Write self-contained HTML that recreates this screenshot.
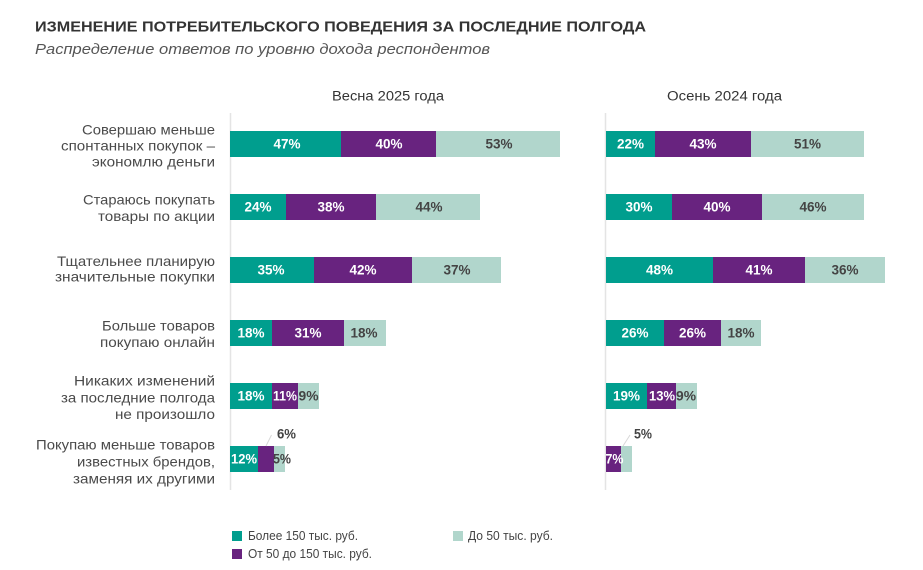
<!DOCTYPE html>
<html>
<head>
<meta charset="utf-8">
<style>
html,body{margin:0;padding:0;background:#fff;}
svg{display:block;}
text{font-family:"Liberation Sans","Noto Sans CJK JP",sans-serif;}
.lbl{font-size:14px;fill:#4a4a4a;text-anchor:end;}
.w{font-size:13.5px;font-weight:bold;fill:#fff;text-anchor:middle;}
.d{font-size:13.5px;font-weight:bold;fill:#444;text-anchor:middle;}
.hd{font-size:13.5px;fill:#333;}
.lg{font-size:12.5px;fill:#444;}
</style>
</head>
<body>
<svg width="923" height="570" viewBox="0 0 923 570" xmlns="http://www.w3.org/2000/svg">
<rect width="923" height="570" fill="#fff"/>
<text x="35" y="31.5" font-size="15" font-weight="bold" fill="#333" textLength="611" lengthAdjust="spacingAndGlyphs">ИЗМЕНЕНИЕ ПОТРЕБИТЕЛЬСКОГО ПОВЕДЕНИЯ ЗА ПОСЛЕДНИЕ ПОЛГОДА</text>
<text x="35" y="54" font-size="14.5" font-style="italic" fill="#555" textLength="455" lengthAdjust="spacingAndGlyphs">Распределение ответов по уровню дохода респондентов</text>

<text class="hd" x="332" y="100.5" textLength="112" lengthAdjust="spacingAndGlyphs">Весна 2025 года</text>
<text class="hd" x="667" y="100.5" textLength="115" lengthAdjust="spacingAndGlyphs">Осень 2024 года</text>

<line x1="230.5" y1="113" x2="230.5" y2="490" stroke="#e4e4e4" stroke-width="1.5"/>
<line x1="605.5" y1="113" x2="605.5" y2="490" stroke="#e4e4e4" stroke-width="1.5"/>

<text class="lbl" x="215" y="134.5" textLength="133" lengthAdjust="spacingAndGlyphs">Совершаю меньше</text>
<text class="lbl" x="215" y="150.5" textLength="154" lengthAdjust="spacingAndGlyphs">спонтанных покупок –</text>
<text class="lbl" x="215" y="166.5" textLength="123" lengthAdjust="spacingAndGlyphs">экономлю деньги</text>

<text class="lbl" x="215" y="204.5" textLength="132" lengthAdjust="spacingAndGlyphs">Стараюсь покупать</text>
<text class="lbl" x="215" y="221" textLength="117" lengthAdjust="spacingAndGlyphs">товары по акции</text>

<text class="lbl" x="215" y="266" textLength="158" lengthAdjust="spacingAndGlyphs">Тщательнее планирую</text>
<text class="lbl" x="215" y="281.5" textLength="160" lengthAdjust="spacingAndGlyphs">значительные покупки</text>

<text class="lbl" x="215" y="330.5" textLength="113" lengthAdjust="spacingAndGlyphs">Больше товаров</text>
<text class="lbl" x="215" y="347" textLength="115" lengthAdjust="spacingAndGlyphs">покупаю онлайн</text>

<text class="lbl" x="215" y="385.5" textLength="141" lengthAdjust="spacingAndGlyphs">Никаких изменений</text>
<text class="lbl" x="215" y="402.5" textLength="154" lengthAdjust="spacingAndGlyphs">за последние полгода</text>
<text class="lbl" x="215" y="419" textLength="100" lengthAdjust="spacingAndGlyphs">не произошло</text>

<text class="lbl" x="215" y="449.5" textLength="179" lengthAdjust="spacingAndGlyphs">Покупаю меньше товаров</text>
<text class="lbl" x="215" y="466.5" textLength="138" lengthAdjust="spacingAndGlyphs">известных брендов,</text>
<text class="lbl" x="215" y="483.5" textLength="142" lengthAdjust="spacingAndGlyphs">заменяя их другими</text>

<g>
<rect x="230" y="131" width="111" height="26" fill="#009E8E"/>
<rect x="341" y="131" width="95" height="26" fill="#68237F"/>
<rect x="436" y="131" width="124" height="26" fill="#B1D6CC"/>
<text class="w" x="287" y="148.5">47%</text>
<text class="w" x="389" y="148.5">40%</text>
<text class="d" x="499" y="148.5">53%</text>

<rect x="230" y="194" width="56" height="26" fill="#009E8E"/>
<rect x="286" y="194" width="90" height="26" fill="#68237F"/>
<rect x="376" y="194" width="104" height="26" fill="#B1D6CC"/>
<text class="w" x="258" y="211.5">24%</text>
<text class="w" x="331" y="211.5">38%</text>
<text class="d" x="429" y="211.5">44%</text>

<rect x="230" y="257" width="84" height="26" fill="#009E8E"/>
<rect x="314" y="257" width="98" height="26" fill="#68237F"/>
<rect x="412" y="257" width="89" height="26" fill="#B1D6CC"/>
<text class="w" x="271" y="274.5">35%</text>
<text class="w" x="363" y="274.5">42%</text>
<text class="d" x="457" y="274.5">37%</text>

<rect x="230" y="320" width="42" height="26" fill="#009E8E"/>
<rect x="272" y="320" width="72" height="26" fill="#68237F"/>
<rect x="344" y="320" width="42" height="26" fill="#B1D6CC"/>
<text class="w" x="251" y="337.5">18%</text>
<text class="w" x="308" y="337.5">31%</text>
<text class="d" x="364" y="337.5">18%</text>

<rect x="230" y="383" width="42" height="26" fill="#009E8E"/>
<rect x="272" y="383" width="26" height="26" fill="#68237F"/>
<rect x="298" y="383" width="21" height="26" fill="#B1D6CC"/>
<text class="w" x="251" y="400.5">18%</text>
<text class="w" x="285" y="400.5" textLength="24" lengthAdjust="spacingAndGlyphs">11%</text>
<text class="d" x="308.5" y="400.5" textLength="20" lengthAdjust="spacingAndGlyphs">9%</text>

<rect x="230" y="446" width="28" height="26" fill="#009E8E"/>
<rect x="258" y="446" width="16" height="26" fill="#68237F"/>
<rect x="274" y="446" width="11" height="26" fill="#B1D6CC"/>
<text class="w" x="244" y="463.5" textLength="26" lengthAdjust="spacingAndGlyphs">12%</text>
<text class="d" x="282" y="463.5" textLength="18" lengthAdjust="spacingAndGlyphs">5%</text>
<line x1="266" y1="446" x2="271.5" y2="435" stroke="#d8d8d8" stroke-width="1"/>
<text class="d" x="286.5" y="438.5" textLength="19" lengthAdjust="spacingAndGlyphs">6%</text>
</g>

<g>
<rect x="606" y="131" width="49" height="26" fill="#009E8E"/>
<rect x="655" y="131" width="96" height="26" fill="#68237F"/>
<rect x="751" y="131" width="113" height="26" fill="#B1D6CC"/>
<text class="w" x="630.5" y="148.5">22%</text>
<text class="w" x="703" y="148.5">43%</text>
<text class="d" x="807.5" y="148.5">51%</text>

<rect x="606" y="194" width="66" height="26" fill="#009E8E"/>
<rect x="672" y="194" width="90" height="26" fill="#68237F"/>
<rect x="762" y="194" width="102" height="26" fill="#B1D6CC"/>
<text class="w" x="639" y="211.5">30%</text>
<text class="w" x="717" y="211.5">40%</text>
<text class="d" x="813" y="211.5">46%</text>

<rect x="606" y="257" width="107" height="26" fill="#009E8E"/>
<rect x="713" y="257" width="92" height="26" fill="#68237F"/>
<rect x="805" y="257" width="80" height="26" fill="#B1D6CC"/>
<text class="w" x="659.5" y="274.5">48%</text>
<text class="w" x="759" y="274.5">41%</text>
<text class="d" x="845" y="274.5">36%</text>

<rect x="606" y="320" width="58" height="26" fill="#009E8E"/>
<rect x="664" y="320" width="57" height="26" fill="#68237F"/>
<rect x="721" y="320" width="40" height="26" fill="#B1D6CC"/>
<text class="w" x="635" y="337.5">26%</text>
<text class="w" x="692.5" y="337.5">26%</text>
<text class="d" x="741" y="337.5">18%</text>

<rect x="606" y="383" width="41" height="26" fill="#009E8E"/>
<rect x="647" y="383" width="29" height="26" fill="#68237F"/>
<rect x="676" y="383" width="21" height="26" fill="#B1D6CC"/>
<text class="w" x="626.5" y="400.5">19%</text>
<text class="w" x="662" y="400.5" textLength="26" lengthAdjust="spacingAndGlyphs">13%</text>
<text class="d" x="686" y="400.5" textLength="20" lengthAdjust="spacingAndGlyphs">9%</text>

<rect x="606" y="446" width="15" height="26" fill="#68237F"/>
<rect x="621" y="446" width="11" height="26" fill="#B1D6CC"/>
<text class="w" x="614.5" y="463.5" textLength="18" lengthAdjust="spacingAndGlyphs">7%</text>
<line x1="623" y1="446" x2="630" y2="435" stroke="#d8d8d8" stroke-width="1"/>
<text class="d" x="643" y="438.5" textLength="18" lengthAdjust="spacingAndGlyphs">5%</text>
</g>

<rect x="232" y="531" width="10" height="10" fill="#009E8E"/>
<text class="lg" x="248" y="540" textLength="110" lengthAdjust="spacingAndGlyphs">Более 150 тыс. руб.</text>
<rect x="232" y="549" width="10" height="10" fill="#68237F"/>
<text class="lg" x="248" y="558" textLength="124" lengthAdjust="spacingAndGlyphs">От 50 до 150 тыс. руб.</text>
<rect x="453" y="531" width="10" height="10" fill="#B1D6CC"/>
<text class="lg" x="468" y="540" textLength="85" lengthAdjust="spacingAndGlyphs">До 50 тыс. руб.</text>
</svg>
</body>
</html>
